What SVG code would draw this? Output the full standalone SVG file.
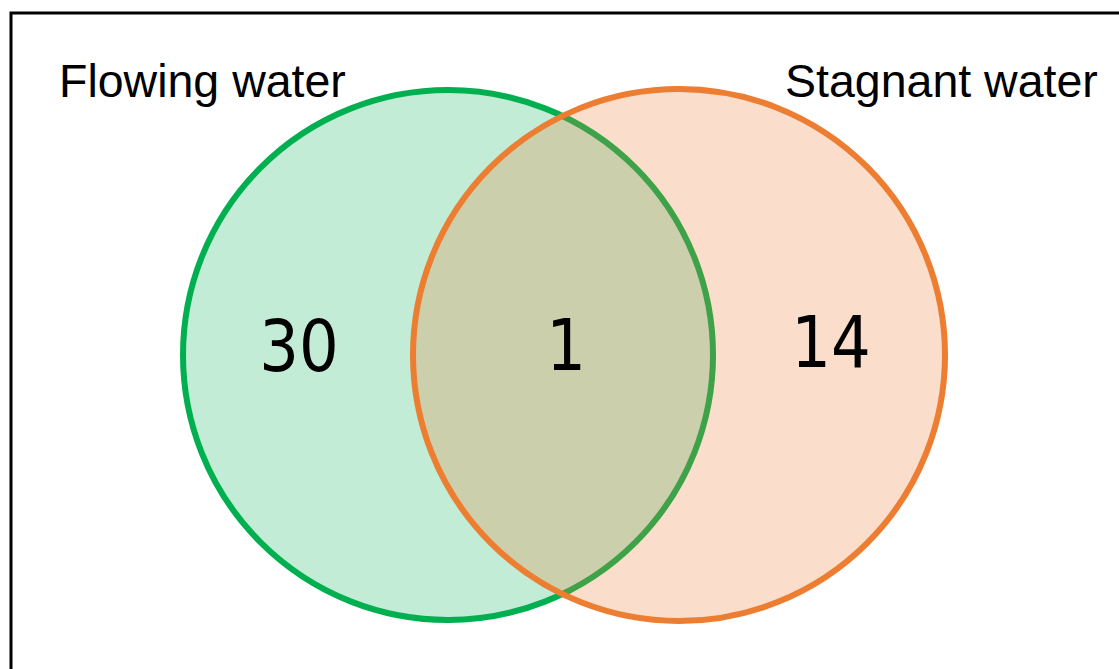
<svg xmlns="http://www.w3.org/2000/svg" width="1119" height="669" viewBox="0 0 1119 669">
<style>
.lbl{font-family:"Liberation Sans",Arial,sans-serif;font-size:46.5px;fill:#000}
.num{font-family:"DejaVu Sans",sans-serif;font-size:71px;fill:#000;text-anchor:middle}
</style>
<rect x="0" y="0" width="1119" height="669" fill="#fff"/>
<rect x="11" y="13" width="1120" height="670" fill="none" stroke="#000" stroke-width="3"/>
<g id="flowing">
<circle cx="448" cy="355" r="265" fill="#00B050" fill-opacity="0.24" stroke="#00B050" stroke-width="6"/>
</g>
<g id="stagnant">
<circle cx="679" cy="355" r="266" fill="#ED7D31" fill-opacity="0.26" stroke="none"/>
<circle cx="679" cy="355" r="266" fill="none" stroke="#ED7D31" stroke-width="6"/>
</g>
<g id="connectors"></g>
<g id="labels">
<text class="lbl" x="59" y="97">Flowing water</text>
<text class="lbl" x="785" y="97">Stagnant water</text>
<text class="num" transform="translate(299 371) scale(0.88 1)">30</text>
<text class="num" transform="translate(566 370) scale(0.88 1)">1</text>
<text class="num" transform="translate(831 367) scale(0.88 1)">14</text>
</g>
</svg>
